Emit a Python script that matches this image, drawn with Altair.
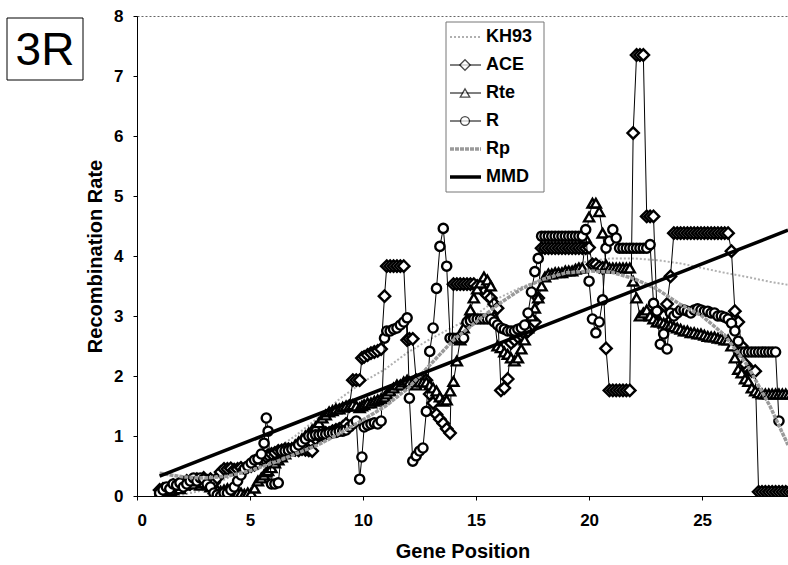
import altair as alt
import pandas as pd

# ---------------- data ----------------
gene_pos = [
    1.0, 1.15, 1.3, 1.45, 1.6, 1.75, 1.9, 2.05, 2.2, 2.35,
    2.5, 2.65, 2.8, 2.95, 3.1, 3.25, 3.4, 3.55, 3.7, 3.85,
    4.0, 4.15, 4.3, 4.45, 4.6, 4.75, 4.9, 5.05, 5.2, 5.35,
    5.5, 5.62, 5.72, 5.8, 5.95, 6.1, 6.25, 6.4, 6.55, 6.7,
    6.85, 7.0, 7.15, 7.3, 7.45, 7.6, 7.75, 7.9, 8.05, 8.2,
    8.35, 8.5, 8.65, 8.8, 8.95, 9.1, 9.25, 9.4, 9.55, 9.7,
    9.85, 9.95, 10.05, 10.2, 10.35, 10.5, 10.65, 10.8, 10.95, 11.05,
    11.2, 11.35, 11.5, 11.65, 11.8, 11.95, 12.05, 12.2, 12.35, 12.5,
    12.65, 12.8, 12.95, 13.1, 13.25, 13.4, 13.55, 13.7, 13.85, 14.0,
    14.15, 14.3, 14.45, 14.6, 14.75, 14.9, 15.05, 15.2, 15.35, 15.5,
    15.65, 15.8, 15.95, 16.1, 16.25, 16.4, 16.55, 16.7, 16.85, 17.0,
    17.15, 17.3, 17.45, 17.6, 17.75, 17.9, 18.05, 18.2, 18.35, 18.5,
    18.65, 18.8, 18.95, 19.1, 19.25, 19.4, 19.55, 19.7, 19.85, 20.0,
    20.15, 20.3, 20.45, 20.6, 20.75, 20.9, 21.05, 21.2, 21.35, 21.5,
    21.65, 21.8, 21.95, 22.1, 22.25, 22.4, 22.55, 22.7, 22.85, 23.0,
    23.15, 23.3, 23.45, 23.6, 23.75, 23.9, 24.05, 24.2, 24.35, 24.5,
    24.65, 24.8, 24.95, 25.1, 25.25, 25.4, 25.55, 25.7, 25.85, 26.0,
    26.15, 26.3, 26.45, 26.6, 26.75, 26.9, 27.05, 27.2, 27.35, 27.5,
    27.65, 27.8, 27.95, 28.1, 28.25, 28.4, 28.55, 28.7, 28.85, 29.0,
]

ace = [
    0.10, 0.12, 0.08, 0.15, 0.18, 0.12, 0.20, 0.22, 0.25, 0.20,
    0.25, 0.28, 0.22, 0.30, 0.25, 0.28, 0.22, 0.30, 0.40, 0.45,
    0.45, 0.46, 0.44, 0.45, 0.47, 0.45, 0.48, 0.50, 0.52, 0.55,
    0.60, 0.62, 0.65, 0.68, 0.70, 0.72, 0.75, 0.76, 0.78, 0.78,
    0.78, 0.77, 0.76, 0.78, 0.77, 0.76, 0.75, 0.95, 1.00, 1.02,
    1.05, 1.05, 1.08, 1.10, 1.12, 1.15, 1.20, 1.50, 1.93, 1.93,
    1.93, 2.30, 2.32, 2.35, 2.38, 2.40, 2.42, 2.45, 3.33, 3.83,
    3.83, 3.83, 3.83, 3.83, 3.83, 2.60, 2.62, 2.62, 1.93, 1.93,
    1.93, 1.93, 1.70, 1.55, 1.36, 1.28, 1.21, 1.12, 1.05, 3.53,
    3.53, 3.53, 3.53, 3.53, 3.53, 3.53, 3.50, 3.47, 3.40, 3.34,
    3.30, 3.20, 3.13, 1.76, 1.80, 1.95, 2.55, 2.60, 2.65, 2.68,
    2.70, 2.75, 2.80, 2.90, 3.30, 4.13, 4.13, 4.13, 4.13, 4.13,
    4.13, 4.13, 4.13, 4.13, 4.13, 4.13, 4.13, 4.13, 4.13, 4.14,
    3.86, 3.86, 3.82, 3.80, 2.46, 1.76, 1.76, 1.76, 1.76, 1.76,
    1.76, 1.76, 6.05, 7.35, 7.35, 7.35, 4.66, 4.66, 4.66, 3.10,
    3.05, 3.00, 3.20, 3.66, 4.38, 4.38, 4.38, 4.38, 4.38, 4.38,
    4.38, 4.38, 4.38, 4.38, 4.38, 4.38, 4.38, 4.38, 4.38, 4.38,
    4.38, 4.08, 3.08, 2.90, 2.50, 2.20, 2.10, 2.08, 2.08, 0.07,
    0.07, 0.07, 0.07, 0.07, 0.07, 0.07, 0.07, 0.07, 0.07, 0.07,
]

rte = [
    0.05, 0.00, 0.02, 0.08, 0.10, 0.15, 0.12, 0.18, 0.20, 0.22,
    0.20, 0.25, 0.18, 0.22, 0.20, 0.15, 0.12, 0.10, 0.08, 0.10,
    0.12, 0.10, 0.08, 0.05, 0.05, 0.03, 0.05, 0.05, 0.13, 0.25,
    0.30, 0.35, 0.40, 0.42, 0.47, 0.55, 0.60, 0.65, 0.70, 0.75,
    0.80, 0.85, 0.90, 0.95, 1.00, 1.05, 1.10, 1.15, 1.22, 1.30,
    1.35, 1.40, 1.42, 1.45, 1.45, 1.48, 1.50, 1.50, 1.52, 1.50,
    1.47, 1.50, 1.52, 1.55, 1.55, 1.58, 1.60, 1.62, 1.65, 1.70,
    1.75, 1.80, 1.85, 1.85, 1.90, 1.93, 1.90, 1.88, 1.85, 1.90,
    1.90, 1.90, 1.85, 1.80, 1.75, 1.65, 1.58, 1.60, 1.75, 1.91,
    2.25, 2.60, 2.80, 2.95, 3.10, 3.30, 3.45, 3.55, 3.65, 3.60,
    3.50, 3.00, 2.50, 2.47, 2.40, 2.36, 2.30, 2.25, 2.30, 2.45,
    2.60, 2.80, 3.00, 3.13, 3.30, 3.50, 3.65, 3.70, 3.70, 3.72,
    3.72, 3.72, 3.75, 3.75, 3.75, 3.78, 3.80, 3.80, 4.30, 4.65,
    4.88, 4.88, 4.74, 4.38, 3.85, 3.80, 3.80, 3.80, 3.80, 3.80,
    3.80, 3.80, 3.58, 3.30, 3.00, 3.05, 3.10, 3.00, 2.95, 2.90,
    2.90, 2.88, 2.85, 2.85, 2.82, 2.80, 2.78, 2.75, 2.75, 2.72,
    2.72, 2.70, 2.70, 2.68, 2.66, 2.65, 2.65, 2.63, 2.62, 2.60,
    2.60, 2.50, 2.30, 2.11, 2.05, 1.95, 1.91, 1.80, 1.75, 1.72,
    1.70, 1.70, 1.70, 1.70, 1.70, 1.70, 1.70, 1.70, 1.70, 1.70,
]

r_vals = [
    0.05, 0.10, 0.15, 0.12, 0.20, 0.18, 0.22, 0.15, 0.20, 0.25,
    0.30, 0.25, 0.30, 0.28, 0.20, 0.15, 0.05, 0.02, 0.00, 0.05,
    0.05, 0.10, 0.15, 0.25, 0.35, 0.45, 0.50, 0.55, 0.60, 0.62,
    0.70, 0.88, 1.30, 1.08, 0.20, 0.20, 0.22, 0.75, 0.75, 0.76,
    0.78, 0.80, 0.85, 0.90, 0.95, 1.00, 1.00, 1.02, 1.02, 1.03,
    1.03, 1.05, 1.05, 1.06, 1.08, 1.08, 1.10, 1.15, 1.20, 1.25,
    0.28, 0.65, 1.15, 1.18, 1.20, 1.22, 1.20, 1.25, 2.63, 2.75,
    2.75, 2.78, 2.80, 2.85, 2.90, 2.97, 1.63, 0.58, 0.67, 0.75,
    0.80, 1.41, 2.41, 2.80, 3.46, 4.16, 4.46, 3.83, 2.63, 2.63,
    2.63, 2.63, 2.63, 2.90, 2.92, 2.95, 2.95, 2.95, 2.95, 2.95,
    2.95, 2.90, 2.85, 2.80, 2.78, 2.75, 2.75, 2.75, 2.78, 2.80,
    2.85, 3.05, 3.40, 3.74, 3.96, 4.33, 4.33, 4.33, 4.33, 4.33,
    4.33, 4.33, 4.33, 4.33, 4.33, 4.33, 4.33, 4.33, 4.44, 3.58,
    2.95, 2.72, 2.90, 3.27, 4.13, 4.25, 4.44, 4.30, 4.13, 4.13,
    4.13, 4.13, 4.13, 4.13, 4.13, 4.13, 4.13, 4.19, 3.21, 3.08,
    2.53, 2.70, 2.45, 3.05, 3.00, 3.05, 3.10, 3.10, 3.08, 3.05,
    3.10, 3.12, 3.10, 3.08, 3.08, 3.05, 3.05, 3.00, 3.00, 2.98,
    2.95, 2.88, 2.75, 2.58, 2.40, 2.40, 2.40, 2.40, 2.40, 2.40,
    2.40, 2.40, 2.40, 2.40, 2.40, 1.25, None, None, None, None,
]

kh93_x = [2.0, 3, 4, 5, 6, 7, 8, 9, 10, 11, 12, 13, 14, 15, 16, 17, 18, 19,
          20, 21, 22, 23, 24, 25, 26, 27, 28, 28.8]
kh93_y = [0.02, 0.10, 0.30, 0.50, 0.75, 1.00, 1.30, 1.63, 1.90, 2.12, 2.40,
          2.62, 2.82, 3.02, 3.30, 3.48, 3.62, 3.80, 3.92, 3.96, 3.96, 3.93,
          3.88, 3.80, 3.72, 3.65, 3.57, 3.52]

rp_x = [1, 2, 3, 4, 5, 6, 7, 8, 9, 10, 11, 12, 13, 14, 15, 16, 17, 18, 19,
        20, 21, 22, 23, 24, 25, 26, 27, 28, 28.8]
rp_y = [0.38, 0.32, 0.30, 0.33, 0.42, 0.55, 0.70, 0.85, 1.05, 1.27, 1.50,
        1.80, 2.20, 2.60, 2.90, 3.20, 3.45, 3.62, 3.72, 3.75, 3.73, 3.62,
        3.45, 3.20, 3.00, 2.68, 2.18, 1.50, 0.85]

mmd_x = [1.0, 28.8]
mmd_y = [0.33, 4.43]

legend_labels = ["KH93", "ACE", "Rte", "R", "Rp", "MMD"]
x_ticks = [0, 5, 10, 15, 20, 25]
y_ticks = [0, 1, 2, 3, 4, 5, 6, 7, 8]

# ---------------- chart ----------------
FONT = "Liberation Sans, Arial, sans-serif"
W, H = 651, 480
MK_SW = 2.4

xs = alt.Scale(domain=[0, 28.8], nice=False, zero=False)
ys = alt.Scale(domain=[0, 8], nice=False)
x_axis = alt.Axis(values=x_ticks, title="Gene Position", format="d",
                  labelFontSize=17, titleFontSize=20, tickSize=4,
                  labelPadding=12, titlePadding=13)
y_axis = alt.Axis(values=y_ticks, title="Recombination Rate", format="d",
                  labelFontSize=17, titleFontSize=20, tickSize=4,
                  labelPadding=10, titlePadding=8)


def xy(chart):
    return chart.encode(
        x=alt.X("x:Q", scale=xs, axis=x_axis),
        y=alt.Y("y:Q", scale=ys, axis=y_axis),
    )


def frame(xv, yv):
    return pd.DataFrame({"x": xv, "y": yv}).dropna()


KH_STYLE = dict(color="#b0b0b0", strokeWidth=2, strokeDash=[2, 2])
RP_STYLE = dict(color="#9a9a9a", strokeWidth=3.5, strokeDash=[4, 1])
MMD_STYLE = dict(color="black", strokeWidth=3.5)

kh_layer = xy(alt.Chart(frame(kh93_x, kh93_y)).mark_line(clip=True, **KH_STYLE))


def marker_series(vals, shape, size):
    return xy(alt.Chart(frame(gene_pos, vals)).mark_line(
        color="black", strokeWidth=1, clip=True,
        point=alt.OverlayMarkDef(shape=shape, filled=True, fill="white",
                                 stroke="black", strokeWidth=MK_SW, size=size,
                                 clip=True)))


ace_layer = marker_series(ace, "diamond", 130)
rte_layer = marker_series(rte, "triangle-up", 100)
r_layer = marker_series(r_vals, "circle", 85)

rp_layer = xy(alt.Chart(frame(rp_x, rp_y)).mark_line(clip=True, **RP_STYLE))
mmd_layer = xy(alt.Chart(frame(mmd_x, mmd_y)).mark_line(clip=True, **MMD_STYLE))

# legend (drawn manually, in pixel positions of the plot area)
leg_rows = [21, 49, 77, 105, 133, 161]
one = pd.DataFrame({"k": [0]})
legend_layers = [
    alt.Chart(one).mark_rect(fill="white", stroke="#777", strokeWidth=1).encode(
        x=alt.value(309), x2=alt.value(407), y=alt.value(6), y2=alt.value(176))
]
line_styles = [
    KH_STYLE,
    dict(color="black", strokeWidth=1),
    dict(color="black", strokeWidth=1),
    dict(color="black", strokeWidth=1),
    RP_STYLE,
    MMD_STYLE,
]
shapes = [None, ("diamond", 110), ("triangle-up", 90), ("circle", 80), None, None]
for lab, yy, st, shp in zip(legend_labels, leg_rows, line_styles, shapes):
    legend_layers.append(alt.Chart(one).mark_rule(**st).encode(
        x=alt.value(313), x2=alt.value(344), y=alt.value(yy)))
    if shp is not None:
        legend_layers.append(alt.Chart(one).mark_point(
            shape=shp[0], size=shp[1], filled=True, fill="white",
            stroke="black", strokeWidth=1.3).encode(
            x=alt.value(328), y=alt.value(yy)))
    legend_layers.append(alt.Chart(pd.DataFrame({"label": [lab]})).mark_text(
        font=FONT, fontSize=18, fontWeight="bold", align="left",
        baseline="middle", color="black").encode(
        x=alt.value(349), y=alt.value(yy), text="label:N"))

# "3R" panel tag
tag_box = alt.Chart(one).mark_rect(fill="white", stroke="black", strokeWidth=1).encode(
    x=alt.value(-130), x2=alt.value(-54), y=alt.value(2), y2=alt.value(64))
tag_text = alt.Chart(pd.DataFrame({"t": ["3R"]})).mark_text(
    font=FONT, fontSize=46, align="center", baseline="alphabetic",
    color="black").encode(x=alt.value(-92), y=alt.value(49), text="t:N")

chart = alt.layer(
    kh_layer, ace_layer, rte_layer, r_layer, rp_layer, mmd_layer,
    *legend_layers, tag_box, tag_text,
).properties(
    width=W, height=H,
    autosize=alt.AutoSizeParams(type="none"),
    padding={"left": 137, "top": 16, "right": 0, "bottom": 69},
    background="white",
).configure_view(
    stroke="#666", strokeDash=[2, 2], strokeWidth=1,
).configure_axis(
    domainColor="black", tickColor="black", labelColor="black",
    titleColor="black", labelFont=FONT, titleFont=FONT,
    labelFontWeight="bold", titleFontWeight="bold", grid=False,
)

chart.save("out.html", embed_options={"renderer": "svg", "actions": False})
